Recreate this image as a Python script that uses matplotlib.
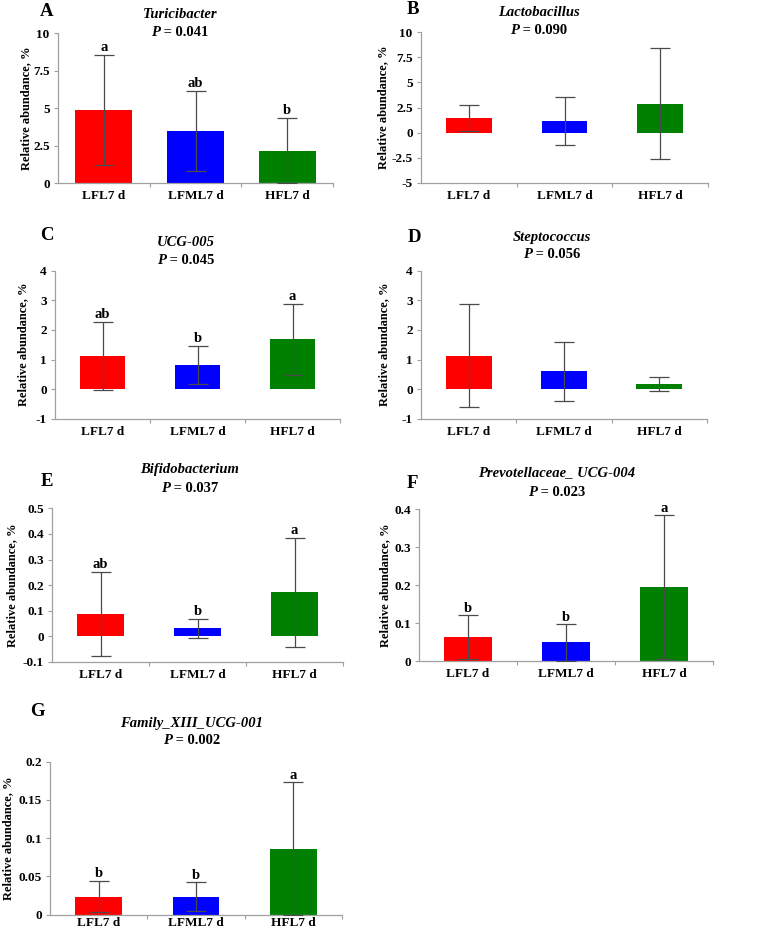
import matplotlib
matplotlib.use("Agg")
import matplotlib.pyplot as plt

W, H = 777, 931

groups = ["LFL7 d", "LFML7 d", "HFL7 d"]
bar_colors = ["#ff0000", "#0000ff", "#008000"]

panel_letters = ["A", "B", "C", "D", "E", "F", "G"]
taxa = ["Turicibacter", "Lactobacillus", "UCG-005", "Steptococcus",
        "Bifidobacterium", "Prevotellaceae_ UCG-004", "Family_XIII_UCG-001"]
p_values = ["0.041", "0.090", "0.045", "0.056", "0.037", "0.023", "0.002"]

# mean and SD per group (relative abundance, %)
turicibacter_mean = [4.90, 3.48, 2.15]
turicibacter_sd = [3.67, 2.69, 2.18]
lactobacillus_mean = [1.45, 1.17, 2.87]
lactobacillus_sd = [1.30, 2.40, 5.55]
ucg005_mean = [1.12, 0.82, 1.68]
ucg005_sd = [1.15, 0.64, 1.20]
strep_mean = [1.13, 0.60, 0.17]
strep_sd = [1.73, 0.99, 0.24]
bifido_mean = [0.087, 0.031, 0.172]
bifido_sd = [0.165, 0.038, 0.214]
prevo_mean = [0.062, 0.049, 0.194]
prevo_sd = [0.058, 0.048, 0.190]
family_mean = [0.0235, 0.0235, 0.086]
family_sd = [0.0205, 0.0187, 0.087]

# significance letters (empty = none shown)
turicibacter_sig = ["a", "ab", "b"]
lactobacillus_sig = ["", "", ""]
ucg005_sig = ["ab", "b", "a"]
strep_sig = ["", "", ""]
bifido_sig = ["ab", "b", "a"]
prevo_sig = ["b", "b", "a"]
family_sig = ["b", "b", "a"]

# y axis ticks
turicibacter_ticks = [0, 2.5, 5, 7.5, 10]
lactobacillus_ticks = [-5, -2.5, 0, 2.5, 5, 7.5, 10]
ucg005_ticks = [-1, 0, 1, 2, 3, 4]
strep_ticks = [-1, 0, 1, 2, 3, 4]
bifido_ticks = [-0.1, 0, 0.1, 0.2, 0.3, 0.4, 0.5]
prevo_ticks = [0, 0.1, 0.2, 0.3, 0.4]
family_ticks = [0, 0.05, 0.1, 0.15, 0.2]

means = [turicibacter_mean, lactobacillus_mean, ucg005_mean, strep_mean,
         bifido_mean, prevo_mean, family_mean]
sds = [turicibacter_sd, lactobacillus_sd, ucg005_sd, strep_sd,
       bifido_sd, prevo_sd, family_sd]
sigs = [turicibacter_sig, lactobacillus_sig, ucg005_sig, strep_sig,
        bifido_sig, prevo_sig, family_sig]
ticks = [turicibacter_ticks, lactobacillus_ticks, ucg005_ticks, strep_ticks,
         bifido_ticks, prevo_ticks, family_ticks]

# layout in pixels: axes box (left, right, top, bottom), bar width,
# letter pos, title centre x, title line y's, ylabel x, x label pad
layout = [
    dict(box=(58, 333, 33.3, 183), bw=0.62, letter=(47, 11), tx=180, ty=(14, 32), ylx=26, xpad=5),
    dict(box=(421, 708, 32.3, 182.7), bw=0.48, letter=(413, 10), tx=539, ty=(13, 30), ylx=383, xpad=5),
    dict(box=(55, 340, 270.7, 418.7), bw=0.48, letter=(47, 236), tx=186, ty=(243, 261), ylx=23, xpad=5),
    dict(box=(421, 707, 270.7, 418.7), bw=0.48, letter=(414, 237), tx=552, ty=(237, 255), ylx=384, xpad=5),
    dict(box=(52, 343, 508.3, 662), bw=0.48, letter=(47, 482), tx=190, ty=(470, 488), ylx=12, xpad=5),
    dict(box=(419, 713, 509.3, 661), bw=0.48, letter=(412, 484), tx=557, ty=(473, 492), ylx=385, xpad=5),
    dict(box=(50, 342, 761.7, 914.7), bw=0.48, letter=(37, 712), tx=192, ty=(723, 741), ylx=8, xpad=1.5),
]

serif = "Liberation Serif"
plt.rcParams["font.family"] = serif
plt.rcParams["font.weight"] = "bold"

axis_gray = "#a0a0a0"
err_gray = "#4a4a4a"

fig = plt.figure(figsize=(W / 100, H / 100), dpi=100)


def fx(x):
    return x / W


def fy(y):
    return 1 - y / H


p_parts = []
for i in range(len(taxa)):
    lay = layout[i]
    l, r, t, b = lay["box"]
    ax = fig.add_axes([fx(l), fy(b), (r - l) / W, (b - t) / H])
    xs = list(range(len(groups)))
    ax.bar(xs, means[i], width=lay["bw"], color=bar_colors, edgecolor="none", zorder=2)
    ax.errorbar(xs, means[i], yerr=sds[i], fmt="none", ecolor=err_gray,
                elinewidth=0.9, capsize=7.2, capthick=0.9, zorder=3)
    for x, m, s, lab in zip(xs, means[i], sds[i], sigs[i]):
        if lab:
            ax.annotate(lab, (x, m + s), xytext=(0, 0.5), textcoords="offset points",
                        ha="center", va="bottom", fontsize=10.5, fontweight="bold")

    tk = ticks[i]
    ax.set_ylim(tk[0], tk[-1])
    ax.set_yticks(tk)
    ax.set_yticklabels(["{:g}".format(round(v, 4)) for v in tk])
    ax.set_xlim(-0.5, 2.5)
    ax.set_xticks(xs)
    ax.set_xticklabels(groups)
    ax.set_xticks([0.5, 1.5, 2.5], minor=True)
    ax.tick_params(axis="x", which="major", length=0, pad=lay["xpad"], labelsize=9.5)
    ax.tick_params(axis="x", which="minor", length=3, color=axis_gray, width=0.8)
    ax.tick_params(axis="y", length=3, color=axis_gray, width=0.8, pad=3, labelsize=9.5)
    for lbl in ax.get_xticklabels() + ax.get_yticklabels():
        lbl.set_fontweight("bold")
    for side in ["top", "right"]:
        ax.spines[side].set_visible(False)
    for side in ["left", "bottom"]:
        ax.spines[side].set_color(axis_gray)
        ax.spines[side].set_linewidth(0.9)
    ax.spines["left"].set_zorder(1)

    # panel letter, title, p value
    lx, ly = lay["letter"]
    fig.text(fx(lx), fy(ly), panel_letters[i], ha="center", va="center",
             fontsize=13.5, fontweight="bold")
    fig.text(fx(lay["tx"]), fy(lay["ty"][0]), taxa[i], ha="center", va="center",
             fontsize=10.5, fontweight="bold", style="italic")
    tp = fig.text(fx(lay["tx"]), fy(lay["ty"][1]), "P", ha="right", va="center",
                  fontsize=10.5, fontweight="bold", style="italic")
    tv = fig.text(fx(lay["tx"]), fy(lay["ty"][1]), " = " + p_values[i], ha="left",
                  va="center", fontsize=10.5, fontweight="bold")
    p_parts.append((tp, tv, lay["tx"]))

    fig.text(fx(lay["ylx"]), fy((t + b) / 2), "Relative abundance, %", rotation=90,
             ha="center", va="center", fontsize=9, fontweight="bold")

# centre the "P = x" lines as a whole
fig.canvas.draw()
renderer = fig.canvas.get_renderer()
for tp, tv, cx in p_parts:
    wp = tp.get_window_extent(renderer).width
    wv = tv.get_window_extent(renderer).width
    split = cx - (wp + wv) / 2 + wp
    tp.set_x(fx(split))
    tv.set_x(fx(split))

fig.savefig("out.png", dpi=100)
